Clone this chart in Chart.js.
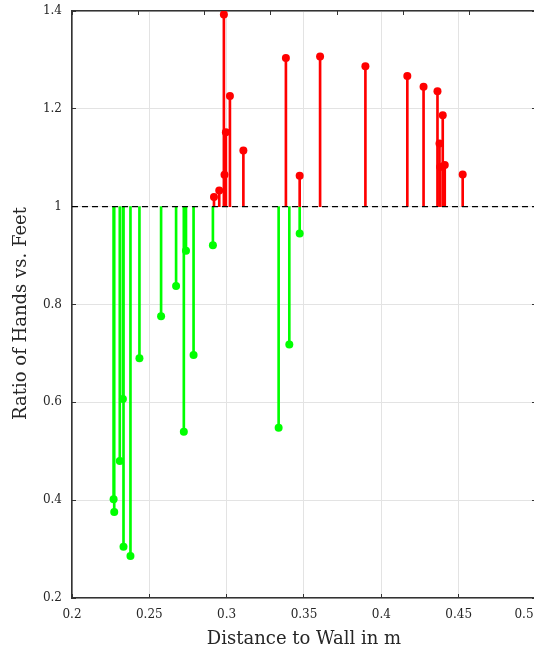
<!DOCTYPE html>
<html>
<head>
<meta charset="utf-8">
<script src="https://cdn.jsdelivr.net/npm/chart.js@4/dist/chart.umd.min.js"></script>
<style>
  html, body { margin: 0; padding: 0; background: #fff; overflow: hidden; width: 534px; height: 651px; }
  #wrap { width: 534px; height: 651px; overflow: hidden; position: relative; }
  canvas { display: block; }
</style>
</head>
<body>
<div id="wrap"><canvas id="c" width="540" height="651"></canvas></div>
<script>
// ---- data ----
const baseline = 1;
const greenX = [0.2269, 0.2273, 0.2309, 0.2329, 0.2333, 0.2378, 0.2436, 0.2576, 0.2673, 0.2723, 0.2737, 0.2786, 0.2911, 0.3336, 0.3405, 0.3472];
const greenY = [0.402, 0.376, 0.480, 0.607, 0.305, 0.286, 0.690, 0.776, 0.838, 0.540, 0.910, 0.697, 0.921, 0.548, 0.718, 0.945];
const redX = [0.2918, 0.2952, 0.2982, 0.2986, 0.2995, 0.3021, 0.3108, 0.3383, 0.3472, 0.3604, 0.3897, 0.4168, 0.4273, 0.4363, 0.4376, 0.4380, 0.4397, 0.4410, 0.4526];
const redY = [1.020, 1.033, 1.393, 1.065, 1.152, 1.226, 1.115, 1.304, 1.063, 1.307, 1.287, 1.267, 1.245, 1.236, 1.129, 1.081, 1.187, 1.085, 1.066];
const xTicks = [0.2, 0.25, 0.3, 0.35, 0.4, 0.45, 0.5];
const yTicks = [0.2, 0.4, 0.6, 0.8, 1, 1.2, 1.4];
const xTitle = 'Distance to Wall in m';
const yTitle = 'Ratio of Hands vs. Feet';

const RED = '#ff0000', GREEN = '#00ff00';
const FONT = "'DejaVu Serif', 'Liberation Serif', serif";
const TXT = '#262626';
const AX = '#333';
const TL = -4;

const stems = (xs, ys) => xs.map((x, i) => ({ x: x, y: [baseline, ys[i]] }));
const pts = (xs, ys) => xs.map((x, i) => ({ x: x, y: ys[i] }));
const fmt = v => String(Number(v.toFixed(2)));

function fixTicks(list) {
  return function (scale) { scale.ticks = list.map(v => ({ value: v })); };
}
function fit(w, h) {
  return function (s) {
    if (w !== null) s.width = w;
    if (h !== null) s.height = h;
    s.paddingLeft = 0; s.paddingRight = 0; s.paddingTop = 0; s.paddingBottom = 0;
  };
}
const mainGrid = { color: '#e3e3e3', lineWidth: 1, drawTicks: true, tickLength: TL, tickColor: AX, tickWidth: 1, offset: false };
const edgeGrid = { drawOnChartArea: false, drawTicks: true, tickLength: TL, tickColor: AX, tickWidth: 1 };

new Chart(document.getElementById('c'), {
  type: 'bar',
  data: {
    datasets: [
      { type: 'line', data: [{ x: xTicks[0], y: baseline }, { x: xTicks[xTicks.length - 1], y: baseline }],
        borderColor: '#000', borderWidth: 1.4, borderDash: [6, 4], pointRadius: 0, order: 0 },
      { type: 'scatter', data: pts(redX, redY), backgroundColor: RED, borderColor: RED, pointRadius: 4, borderWidth: 0, order: 1 },
      { type: 'scatter', data: pts(greenX, greenY), backgroundColor: GREEN, borderColor: GREEN, pointRadius: 4, borderWidth: 0, order: 1 },
      { type: 'bar', data: stems(redX, redY), backgroundColor: RED, barThickness: 2, grouped: false, order: 2 },
      { type: 'bar', data: stems(greenX, greenY), backgroundColor: GREEN, barThickness: 2, grouped: false, order: 2 }
    ]
  },
  options: {
    responsive: false,
    animation: false,
    devicePixelRatio: 1,
    layout: { padding: 0 },
    plugins: { legend: { display: false }, tooltip: { enabled: false } },
    scales: {
      x: {
        type: 'linear', position: 'bottom', min: 0.2, max: 0.5, offset: false,
        afterBuildTicks: fixTicks(xTicks),
        afterFit: fit(null, 53),
        grid: mainGrid,
        border: { display: true, color: AX, width: 1.6 },
        ticks: { color: TXT, font: { family: FONT, size: 12 }, padding: 14, maxRotation: 0,
          callback: (v, i, arr) => i === arr.length - 1 ? fmt(v) + '\u2002\u2002\u2002\u2002' : fmt(v) },
        title: { display: true, text: xTitle, color: TXT, font: { family: FONT, size: 18 }, padding: { top: 0, bottom: 1 } }
      },
      y: {
        type: 'linear', position: 'left', min: 0.2, max: 1.4,
        afterBuildTicks: fixTicks(yTicks),
        afterFit: fit(72, null),
        grid: mainGrid,
        border: { display: true, color: AX, width: 1.6 },
        ticks: { color: TXT, font: { family: FONT, size: 12 }, padding: 14, callback: v => fmt(v) },
        title: { display: true, text: yTitle + '\u2002\u2002', color: TXT, font: { family: FONT, size: 18 }, padding: { top: 11, bottom: 0 } }
      },
      xTop: {
        type: 'linear', position: 'top', min: 0.2, max: 0.5,
        afterBuildTicks: fixTicks(xTicks),
        afterFit: fit(null, 11),
        grid: edgeGrid,
        border: { display: true, color: AX, width: 1.6 },
        ticks: { display: false }
      },
      yRight: {
        type: 'linear', position: 'right', min: 0.2, max: 1.4,
        afterBuildTicks: fixTicks(yTicks),
        afterFit: fit(2, null),
        grid: edgeGrid,
        border: { display: true, color: AX, width: 1.6 },
        ticks: { display: false }
      }
    }
  }
});
</script>
</body>
</html>
